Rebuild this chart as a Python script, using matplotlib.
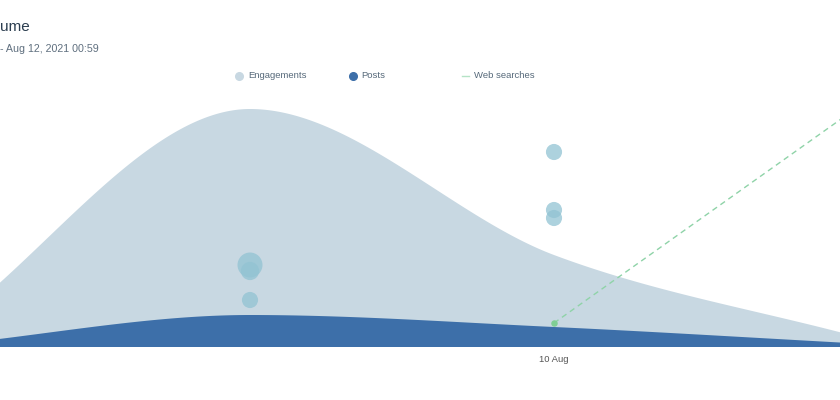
import numpy as np
import matplotlib
matplotlib.use("Agg")
import matplotlib.pyplot as plt
from matplotlib.lines import Line2D

plt.rcParams['font.family'] = ['Liberation Sans', 'DejaVu Sans']

# ---- data ----
days = ['8 Aug', '9 Aug', '10 Aug', '11 Aug']
engagements = [200, 2380, 920, 100]
posts = [20, 320, 200, 35]
web_searches = [np.nan, np.nan, 240, 2400]

bubble_day = [1, 1, 1, 2, 2, 2]
bubble_val = [820, 760, 470, 1950, 1370, 1290]
bubble_z = [6.0, 3.2, 2.5, 2.5, 2.5, 2.5]

tick_labels = ['10 Aug']
tick_days = [2]

title_text = 'ume'
subtitle_text = '- Aug 12, 2021 00:59'


def monotone(x, y, n=400):
    x = np.asarray(x, float)
    y = np.asarray(y, float)
    h = np.diff(x)
    s = np.diff(y) / h
    m = np.zeros_like(y)
    m[0] = s[0]
    m[-1] = s[-1]
    for i in range(1, len(y) - 1):
        if s[i - 1] * s[i] <= 0:
            m[i] = 0
        else:
            p = (s[i - 1] * h[i] + s[i] * h[i - 1]) / (h[i - 1] + h[i])
            m[i] = (np.sign(s[i - 1]) + np.sign(s[i])) * min(abs(s[i - 1]), abs(s[i]), 0.5 * abs(p))
    xs, ys = [], []
    for i in range(len(h)):
        t = np.linspace(0, 1, n)
        h00 = 2 * t**3 - 3 * t**2 + 1
        h10 = t**3 - 2 * t**2 + t
        h01 = -2 * t**3 + 3 * t**2
        h11 = t**3 - t**2
        xs.append(x[i] + t * h[i])
        ys.append(h00 * y[i] + h10 * h[i] * m[i] + h01 * y[i + 1] + h11 * h[i] * m[i + 1])
    return np.concatenate(xs), np.concatenate(ys)


fig = plt.figure(figsize=(8.4, 4.0), dpi=100)
ax = fig.add_axes([0, 1 - 347 / 400, 1, 252 / 400])

xd = np.arange(len(days))
ex, ey = monotone(xd, engagements)
px, py = monotone(xd, posts)

ax.fill_between(ex, 0, ey, color='#c8d8e2', lw=0, zorder=1)
ax.fill_between(px, 0, py, color='#3d6fa9', lw=0, zorder=2)

ax.scatter(bubble_day, bubble_val, s=np.array(bubble_z) * 54, color='#92c3d3',
           alpha=0.75, lw=0, zorder=3)

ax.plot(xd, web_searches, color='#8fd3a8', lw=1, ls=(0, (4, 3)), zorder=4)
ax.scatter([xd[2]], [web_searches[2]], s=22, color='#7fcf95', lw=0, zorder=5)

ax.set_xlim(54 / 304, 894 / 304)
ax.set_ylim(0, 2520)
for sp in ax.spines.values():
    sp.set_visible(False)
ax.set_yticks([])
ax.set_xticks(tick_days)
ax.set_xticklabels(tick_labels, fontsize=6.8, color='#555555')
ax.tick_params(axis='x', length=0, pad=6)

fig.text(0.0, 1 - 31 / 400, title_text, fontsize=11, color='#2c3e50', ha='left', va='baseline')
fig.text(0.0, 1 - 52 / 400, subtitle_text, fontsize=7.7, color='#5f6f7f', ha='left', va='baseline')

ly = 1 - 76 / 400
fig.lines.append(Line2D([239 / 840], [ly], marker='o', markersize=5.5, color='#c8d8e2', ls='none',
                        transform=fig.transFigure))
fig.text(248 / 840, ly, 'Engagements', fontsize=6.8, color='#56697a', va='center', ha='left')
fig.lines.append(Line2D([353 / 840], [ly], marker='o', markersize=5.5, color='#3d6fa9', ls='none',
                        transform=fig.transFigure))
fig.text(361 / 840, ly, 'Posts', fontsize=6.8, color='#56697a', va='center', ha='left')
fig.lines.append(Line2D([462 / 840, 469 / 840], [ly, ly], lw=1, color='#b5e3c6',
                        transform=fig.transFigure))
fig.text(474 / 840, ly, 'Web searches', fontsize=6.8, color='#56697a', va='center', ha='left')

fig.savefig('out.png', dpi=100)
